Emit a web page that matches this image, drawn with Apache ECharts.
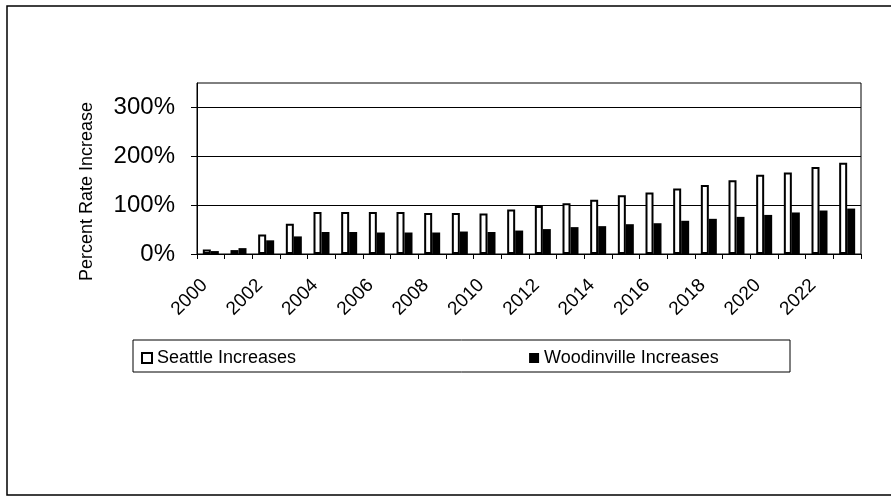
<!DOCTYPE html>
<html>
<head>
<meta charset="utf-8">
<script src="https://cdn.jsdelivr.net/npm/echarts@6/dist/echarts.min.js"></script>
<style>
html,body{margin:0;padding:0;background:#fff;}
#chart{width:891px;height:499px;}
</style>
</head>
<body>
<div id="chart"></div>
<script>
const years = ['2000','2001','2002','2003','2004','2005','2006','2007','2008','2009','2010','2011','2012','2013','2014','2015','2016','2017','2018','2019','2020','2021','2022','2023'];
const seattle = [9, 8, 40, 62, 86, 86, 86, 86, 84, 84, 83, 91, 98, 104, 111, 120, 126, 134, 141, 151, 162, 167, 178, 187];
const woodinville = [6, 12, 28, 36, 45, 45, 44, 44, 44, 46, 45, 48, 51, 55, 57, 61, 63, 68, 72, 76, 80, 85, 89, 93];
const yTicks = [0, 100, 200, 300];

const FONT = 'Liberation Sans, Arial, sans-serif';
const chart = echarts.init(document.getElementById('chart'));
chart.setOption({
  backgroundColor: '#ffffff',
  animation: false,
  grid: { left: 197, right: 30, top: 83, bottom: 245, show: true, borderColor: '#000', borderWidth: 1 },
  legend: {
    left: 136, top: 344, itemGap: 233, itemWidth: 10, itemHeight: 10, icon: 'rect',
    textStyle: { fontFamily: FONT, fontSize: 18, color: '#000' },
    data: ['Seattle Increases', 'Woodinville Increases']
  },
  xAxis: {
    type: 'category', data: years,
    axisLine: { lineStyle: { color: '#000', width: 1 } },
    axisTick: { show: true, interval: 0, length: 5, lineStyle: { color: '#000' } },
    axisLabel: { interval: 1, rotate: 45, fontFamily: FONT, fontSize: 19, color: '#000', margin: 22, padding: [0, 9, 0, 0] }
  },
  yAxis: {
    type: 'value', min: 0, max: 350, interval: 100,
    name: 'Percent Rate Increase', nameLocation: 'middle', nameGap: 101,
    nameTextStyle: { fontFamily: FONT, fontSize: 18, color: '#000', padding: [0, 46, 0, 0] },
    axisLine: { show: true, lineStyle: { color: '#000', width: 1 } },
    axisTick: { show: true, length: 6, customValues: yTicks, lineStyle: { color: '#000' } },
    axisLabel: {
      fontFamily: FONT, fontSize: 24, color: '#000', margin: 22,
      customValues: yTicks,
      formatter: v => v + '%'
    },
    splitLine: { show: true, lineStyle: { color: '#000', width: 1 } }
  },
  series: [
    {
      name: 'Seattle Increases', type: 'bar', data: seattle, barWidth: 8, barGap: '0%',
      itemStyle: { color: '#ffffff', borderColor: '#000', borderWidth: 2 }
    },
    {
      name: 'Woodinville Increases', type: 'bar', data: woodinville, barWidth: 8,
      itemStyle: { color: '#000' }
    }
  ],
  graphic: [
    { type: 'rect', shape: { x: 7, y: 6, width: 900, height: 489 }, style: { fill: 'none', stroke: '#000', lineWidth: 1.5 }, silent: true },
    { type: 'rect', shape: { x: 133, y: 340, width: 657, height: 32 }, style: { fill: 'none', stroke: '#000', lineWidth: 1 }, silent: true }
  ]
});
</script>
</body>
</html>
